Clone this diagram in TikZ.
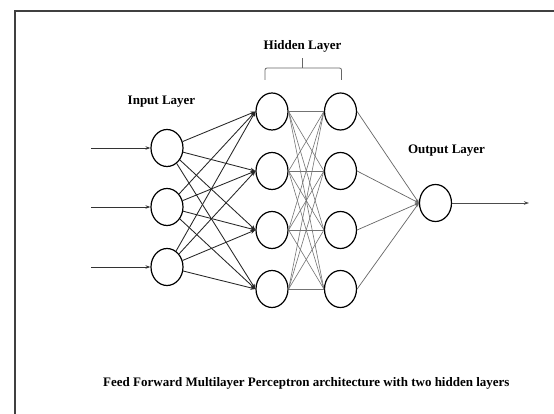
\documentclass[tikz,border=0pt]{standalone}
\usepackage{fontspec}
\setmainfont{Liberation Serif}
\usetikzlibrary{shapes.geometric,arrows.meta}
\begin{document}
\begin{tikzpicture}[x=1pt,y=-1pt,
  neuron/.style={ellipse,draw=black,line width=1.2pt,minimum width=32pt,minimum height=37pt,inner sep=0pt},
  lbl/.style={font=\bfseries\fontsize{13}{15}\selectfont,inner sep=0pt},
  inarrow/.style={draw=black!85,line width=0.85pt,-{Stealth[length=5pt,width=4pt]}},
  hidline/.style={draw=black!55,line width=0.6pt},
  outline/.style={draw=black!60,line width=0.7pt,-{Stealth[length=4pt,width=3pt]}},
  feed/.style={draw=black!80,line width=0.8pt,-{Stealth[length=5pt,width=3.5pt]}}]
\useasboundingbox (0,0) rectangle (554,414);
\fill[white] (0,0) rectangle (554,414);
% frame (left and top edges)
\draw[black!75,line width=1.5pt] (15,420) -- (15,11) -- (560,11);
% nodes
\node[neuron] (i1) at (167,148) {};
\node[neuron] (i2) at (167,207) {};
\node[neuron] (i3) at (167,267) {};
\foreach \r/\y in {1/111.5,2/171,3/230,4/289}{
  \node[neuron] (a\r) at (272,\y) {};
  \node[neuron] (b\r) at (340.5,\y) {};
}
\node[neuron] (o) at (435.5,203) {};
% labels
\node[lbl] (tin) at (161.5,101.5) {Input Layer};
\node[lbl] (thid) at (302.5,46.5) {Hidden Layer};
\node[lbl] (tout) at (446.5,150.5) {Output Layer};
\node[lbl,anchor=west] (cap) at (103,383) {Feed Forward Multilayer Perceptron architecture with two hidden layers};
% bracket
\draw[black!60,line width=0.8pt,rounded corners=2pt] (265,80) -- (265,68) -- (341.5,68) -- (341.5,80);
\draw[black!60,line width=0.8pt] (302.5,68) -- (302.5,58);
% input arrows
\coordinate (s1) at (91,148);
\coordinate (s2) at (91,207);
\coordinate (s3) at (91,267);
\foreach \k in {1,2,3}{\draw[feed] (s\k) -- (i\k.west);}
% input to hidden 1
\foreach \k in {1,2,3}{\foreach \r in {1,2,3,4}{\draw[inarrow] (i\k) -- (a\r.west);}}
% hidden 1 to hidden 2
\foreach \p in {1,2,3,4}{\foreach \q in {1,2,3,4}{\draw[hidline] (a\p.east) -- (b\q.west);}}
% hidden 2 to output
\foreach \q in {1,2,3,4}{\draw[outline] (b\q.east) -- (o.west);}
% output arrow
\coordinate (e) at (529,203);
\draw[black!70,line width=0.8pt,-{Stealth[length=5pt,width=3.5pt]}] (o.east) -- (e);
\end{tikzpicture}
\end{document}
